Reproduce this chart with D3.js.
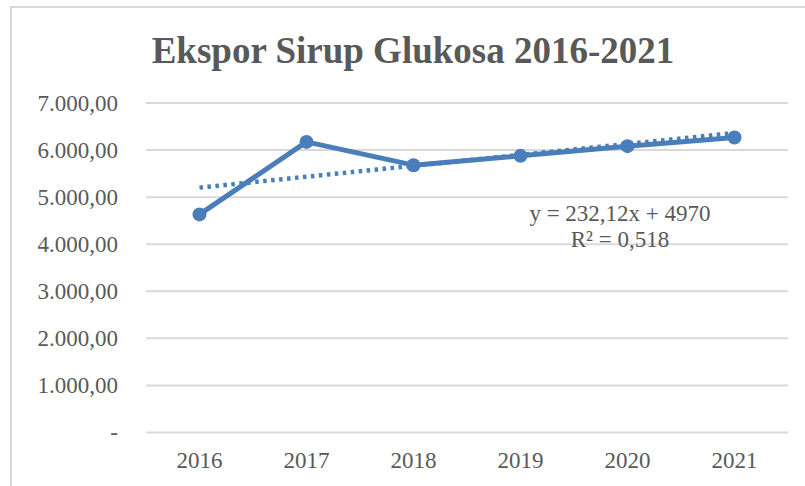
<!DOCTYPE html>
<html>
<head>
<meta charset="utf-8">
<script src="https://cdn.jsdelivr.net/npm/d3@7"></script>
<style>
	html, body { margin: 0; padding: 0; background: #fff; }
	svg { display: block; }
	svg text { font-family: "Liberation Serif", "Times New Roman", serif; }
</style>
</head>
<body>
<div id="chart"></div>
<script>
// Data:
var years = ['2016', '2017', '2018', '2019', '2020', '2021'];
var ekspor = [4633, 6174, 5679, 5877, 6083, 6268];
var yTicks = [0, 1000, 2000, 3000, 4000, 5000, 6000, 7000];
var trend = { slope: 232.12, intercept: 4970 };

var width = 805,
	height = 486,
	margin = [103, 17, 53, 146]; // top, right, bottom, left

var blue = '#4a7ebb',
	grey = '#595959',
	grid = '#d9d9d9';

var fmt = function( v ) {
	if ( v === 0 ) { return '-'; }
	// Indonesian style: dot thousands, comma decimals
	return d3.format(',.2f')( v ).replace(/,/g, '#').replace('.', ',').replace(/#/g, '.');
};

var svg = d3.select('#chart').append('svg')
	.attr('width', width)
	.attr('height', height);

// Chart frame (runs off the right and bottom edges):
svg.append('rect')
	.attr('x', 11)
	.attr('y', 7)
	.attr('width', width + 20)
	.attr('height', height + 20)
	.attr('fill', '#fff')
	.attr('stroke', grid)
	.attr('stroke-width', 2);

// Title:
svg.append('text')
	.attr('x', 413)
	.attr('y', 63)
	.attr('text-anchor', 'middle')
	.style('font-weight', 'bold')
	.style('font-size', '37px')
	.attr('fill', grey)
	.text('Ekspor Sirup Glukosa 2016-2021');

var x = d3.scaleBand()
	.domain( years )
	.range( [margin[3], width - margin[1]] );

var y = d3.scaleLinear()
	.domain( [0, 7000] )
	.range( [height - margin[2] - 0.5, margin[0]] );

var chart = svg.append('g');

// Gridlines:
chart.append('g')
	.selectAll('line')
	.data( yTicks )
	.join('line')
		.attr('x1', margin[3])
		.attr('x2', width - margin[1])
		.attr('y1', function( d ) { return y( d ); })
		.attr('y2', function( d ) { return y( d ); })
		.attr('stroke', grid)
		.attr('stroke-width', 2);

// Y axis labels:
var yAxis = chart.append('g')
	.attr('transform', 'translate(' + 118 + ',0)')
	.call( d3.axisLeft( y ).tickValues( yTicks ).tickFormat( fmt ).tickSize( 0 ).tickPadding( 0 ) );

// X axis labels:
var xAxis = chart.append('g')
	.attr('transform', 'translate(0,' + 452 + ')')
	.call( d3.axisBottom( x ).tickSize( 0 ).tickPadding( 0 ) );

[yAxis, xAxis].forEach( function( ax ) {
	ax.select('.domain').remove();
	ax.selectAll('text')
		.style('font-size', '23px')
		.attr('fill', grey);
});

var cx = function( d, i ) { return x( years[i] ) + x.bandwidth() / 2; };

// Linear trendline:
var trendLine = d3.line()
	.x( function( d, i ) { return cx( d, i ); } )
	.y( function( d, i ) { return y( trend.slope * (i + 1) + trend.intercept ); } );

// Data series:
var line = d3.line()
	.x( cx )
	.y( function( d ) { return y( d ); } );

chart.append('path')
	.datum( ekspor )
	.attr('d', line)
	.attr('fill', 'none')
	.attr('stroke', blue)
	.attr('stroke-width', 5)
	.attr('stroke-linejoin', 'round');

chart.selectAll('circle')
	.data( ekspor )
	.join('circle')
		.attr('cx', cx)
		.attr('cy', function( d ) { return y( d ); })
		.attr('r', 7)
		.attr('fill', blue);

chart.append('path')
	.datum( ekspor )
	.attr('d', trendLine)
	.attr('fill', 'none')
	.attr('stroke', blue)
	.attr('stroke-width', 4.5)
	.attr('stroke-dasharray', '3.5,4.5');

// Trendline equation:
var eq = chart.append('text')
	.attr('text-anchor', 'middle')
	.style('font-size', '23px')
	.attr('fill', grey);

eq.append('tspan')
	.attr('x', 620)
	.attr('y', 221)
	.text('y = 232,12x + 4970');

eq.append('tspan')
	.attr('x', 620)
	.attr('y', 247)
	.text('R² = 0,518');
</script>
</body>
</html>
